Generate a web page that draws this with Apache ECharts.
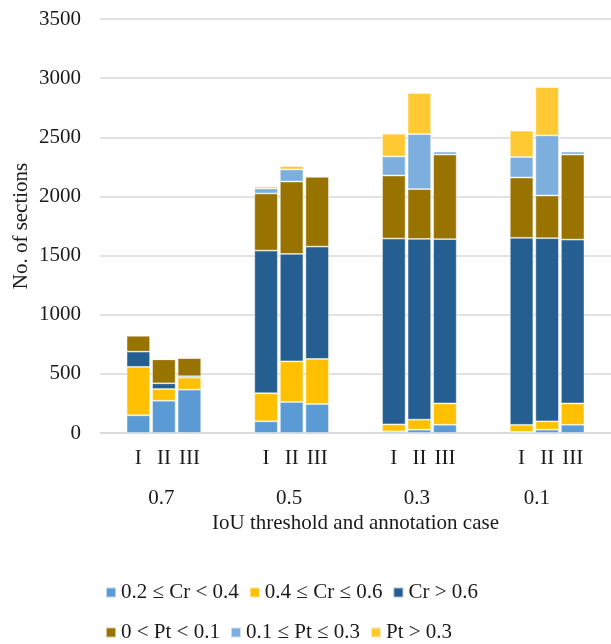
<!DOCTYPE html>
<html>
<head>
<meta charset="utf-8">
<style>
  html, body { margin: 0; padding: 0; background: #fff; }
  #chart { width: 611px; height: 644px; }
</style>
<script src="https://cdn.jsdelivr.net/npm/echarts@6/dist/echarts.min.js"></script>
</head>
<body>
<div id="chart"></div>
<script>
// IoU thresholds (groups) and annotation cases within each group
const groups = ['0.7', '0.5', '0.3', '0.1'];
const cases = ['I', 'II', 'III'];
// horizontal position (in slot units) of each group label
const groupLabelPos = [2.4, 7.4, 12.4, 17.1];

// Section counts per bar, ordered 0.7 I..III, 0.5 I..III, 0.3 I..III, 0.1 I..III
const cr02to04 = [150, 273, 366, 99, 262, 245, 14, 28, 70, 10, 28, 70];
const cr04to06 = [409, 99, 102, 237, 344, 381, 59, 85, 180, 59, 71, 180];
const crAbove06 = [129, 48, 12, 1206, 908, 950, 1571, 1528, 1389, 1581, 1548, 1385];
const pt0to01 = [135, 203, 155, 483, 612, 590, 533, 421, 715, 510, 361, 719];
const pt01to03 = [0, 0, 0, 42, 102, 5, 161, 465, 25, 173, 508, 25];
const ptAbove03 = [0, 0, 0, 17, 29, 0, 192, 347, 0, 223, 409, 0];

const seriesDefs = [
  { name: '0.2 \u2264 Cr < 0.4', data: cr02to04, color: '#5B9BD5' },
  { name: '0.4 \u2264 Cr \u2264 0.6', data: cr04to06, color: '#FFC000' },
  { name: 'Cr > 0.6', data: crAbove06, color: '#255E91' },
  { name: '0 < Pt < 0.1', data: pt0to01, color: '#997300' },
  { name: '0.1 \u2264 Pt \u2264 0.3', data: pt01to03, color: '#7CAFDD' },
  { name: 'Pt > 0.3', data: ptAbove03, color: '#FFC934' }
];

// Each group occupies five slots: a blank, the three cases, and a blank
const slots = [];
const slotIndex = [];
groups.forEach(() => {
  slots.push('');
  cases.forEach(c => { slotIndex.push(slots.length); slots.push(c); });
  slots.push('');
});
function spread(values) {
  const out = slots.map(() => null);
  values.forEach((v, i) => { out[slotIndex[i]] = v; });
  return out;
}

const FONT = "'Liberation Serif', 'Times New Roman', serif";
const TEXT = '#1a1a1a';
const FS = 21;

// Two legend rows; fixed text width keeps the entries in columns
const legendBase = {
  orient: 'horizontal',
  left: 100,
  itemWidth: 10,
  itemHeight: 10,
  itemGap: 10,
  icon: 'rect',
  textStyle: { fontFamily: FONT, fontSize: FS, color: TEXT, width: 113 }
};

const chart = echarts.init(document.getElementById('chart'), null, { renderer: 'canvas' });
chart.setOption({
  backgroundColor: '#fff',
  animation: false,
  textStyle: { fontFamily: FONT },
  grid: { left: 100, top: 19, width: 520, height: 414, containLabel: false },
  legend: [
    Object.assign({}, legendBase, { top: 577, data: [seriesDefs[0].name, seriesDefs[1].name, seriesDefs[2].name] }),
    Object.assign({}, legendBase, { top: 617, data: [seriesDefs[3].name, seriesDefs[4].name, seriesDefs[5].name] })
  ],
  xAxis: [
    {
      type: 'category',
      data: slots,
      axisLine: { show: true, lineStyle: { color: '#d9d9d9', width: 1.5 } },
      axisTick: { show: false },
      axisLabel: { interval: 0, margin: 15, fontSize: FS, color: TEXT, fontFamily: FONT },
      name: 'IoU threshold and annotation case',
      nameLocation: 'middle',
      nameGap: 80,
      nameMoveOverlap: false,
      nameTextStyle: { fontSize: FS, color: TEXT, fontFamily: FONT }
    },
    {
      type: 'value',
      position: 'bottom',
      offset: 40,
      min: 0,
      max: slots.length,
      axisLine: { show: false },
      axisTick: { show: false },
      splitLine: { show: false },
      axisLabel: {
        customValues: groupLabelPos,
        margin: 15,
        fontSize: FS,
        color: TEXT,
        fontFamily: FONT,
        formatter: v => {
          const i = groupLabelPos.indexOf(v);
          return i >= 0 ? groups[i] : '';
        }
      }
    }
  ],
  yAxis: {
    type: 'value',
    min: 0,
    max: 3500,
    interval: 500,
    axisLine: { show: false },
    axisTick: { show: false },
    splitLine: { lineStyle: { color: '#d9d9d9', width: 1.5 } },
    axisLabel: { margin: 19, fontSize: FS, color: TEXT, fontFamily: FONT, formatter: v => String(v) },
    name: 'No. of sections',
    nameLocation: 'middle',
    nameGap: 68,
    nameMoveOverlap: false,
    nameTextStyle: { fontSize: FS, color: TEXT, fontFamily: FONT }
  },
  series: seriesDefs.map(s => ({
    name: s.name,
    type: 'bar',
    stack: 'total',
    xAxisIndex: 0,
    barCategoryGap: '8%',
    data: spread(s.data),
    itemStyle: { color: s.color, borderColor: 'rgba(255,255,255,0.6)', borderWidth: 0.8 }
  }))
});
</script>
</body>
</html>
